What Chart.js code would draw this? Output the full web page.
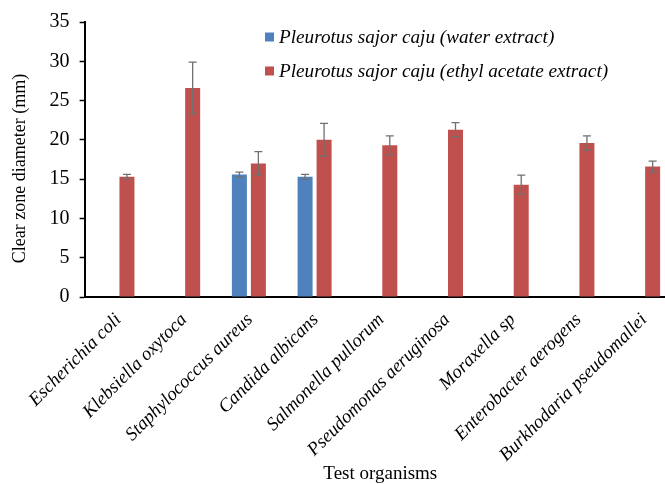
<!DOCTYPE html>
<html>
<head>
<meta charset="utf-8">
<script src="https://cdn.jsdelivr.net/npm/chart.js@4.4.1/dist/chart.umd.min.js"></script>
<style>
  html, body { margin: 0; padding: 0; background: #fff; overflow: hidden; }
  #wrap { width: 676px; height: 484px; }
</style>
</head>
<body>
<div id="wrap"><canvas id="chart" width="676" height="484"></canvas></div>
<script>
// Test organisms on the x axis
const organisms = [
  'Escherichia coli',
  'Klebsiella oxytoca',
  'Staphylococcus aureus',
  'Candida albicans',
  'Salmonella pullorum',
  'Pseudomonas aeruginosa',
  'Moraxella sp',
  'Enterobacter aerogens',
  'Burkhodaria pseudomallei'
];

const seriesNames = [
  'Pleurotus sajor caju (water extract)',
  'Pleurotus sajor caju (ethyl acetate extract)'
];

// Mean clear zone diameter (mm) and standard deviation
const waterExtract    = [null, null, 15.6, 15.3, null, null, null, null, null];
const waterExtractSd  = [null, null, 0.3, 0.3, null, null, null, null, null];
const ethylAcetate    = [15.3, 26.6, 17.0, 20.0, 19.3, 21.3, 14.3, 19.6, 16.6];
const ethylAcetateSd  = [0.3, 3.3, 1.5, 2.1, 1.2, 0.9, 1.2, 0.9, 0.7];

const yTicks = [0, 5, 10, 15, 20, 25, 30, 35];

const SERIF = "'Liberation Serif', 'Times New Roman', serif";
const BLUE = '#4F81BD';
const RED = '#C0504D';

// Whiskers (mean ± SD) on top of each bar
const errorBars = {
  id: 'errorBars',
  afterDatasetsDraw(chart) {
    const ctx = chart.ctx;
    const y = chart.scales.y;
    ctx.save();
    ctx.strokeStyle = '#707070';
    ctx.lineWidth = 1.3;
    chart.data.datasets.forEach((ds, di) => {
      const meta = chart.getDatasetMeta(di);
      ds.data.forEach((v, i) => {
        const sd = ds.sd[i];
        if (v == null || sd == null) return;
        const x = meta.data[i].x;
        const yHi = y.getPixelForValue(v + sd);
        const yLo = y.getPixelForValue(v - sd);
        const cap = 4;
        ctx.beginPath();
        ctx.moveTo(x, yHi); ctx.lineTo(x, yLo);
        ctx.moveTo(x - cap, yHi); ctx.lineTo(x + cap, yHi);
        ctx.moveTo(x - cap, yLo); ctx.lineTo(x + cap, yLo);
        ctx.stroke();
      });
    });
    ctx.restore();
  }
};

// Series key, placed inside the upper part of the plot area
const seriesKey = {
  id: 'seriesKey',
  afterDraw(chart) {
    const ctx = chart.ctx;
    ctx.save();
    ctx.font = 'italic 19.2px ' + SERIF;
    ctx.textBaseline = 'middle';
    ctx.textAlign = 'left';
    chart.data.datasets.forEach((ds, i) => {
      const cy = 37 + i * 34;
      ctx.fillStyle = ds.backgroundColor;
      ctx.fillRect(265, cy - 4.5, 9, 9);
      ctx.fillStyle = '#000';
      ctx.fillText(ds.label, 279, cy + 1);
    });
    ctx.restore();
  }
};

new Chart(document.getElementById('chart'), {
  type: 'bar',
  data: {
    labels: organisms,
    datasets: [
      { label: seriesNames[0], data: waterExtract, sd: waterExtractSd, backgroundColor: BLUE },
      { label: seriesNames[1], data: ethylAcetate, sd: ethylAcetateSd, backgroundColor: RED }
    ]
  },
  options: {
    responsive: false,
    animation: false,
    devicePixelRatio: 1,
    layout: { padding: { top: 20, right: 0, bottom: 0, left: 0 } },
    datasets: { bar: { categoryPercentage: 0.578, barPercentage: 0.79 } },
    plugins: { legend: { display: false }, tooltip: { enabled: false } },
    scales: {
      x: {
        grid: { display: true, drawOnChartArea: false, drawTicks: false },
        border: { display: true, color: '#000', width: 2 },
        ticks: {
          autoSkip: false,
          minRotation: 45,
          maxRotation: 45,
          padding: 12,
          labelOffset: 1,
          color: '#000',
          font: { family: SERIF, size: 18.7, style: 'italic' }
        },
        title: {
          display: true,
          text: 'Test organisms',
          color: '#000',
          padding: { top: 0, bottom: 0 },
          font: { family: SERIF, size: 19, lineHeight: 1 }
        },
        afterFit(s) { s.height = 187; }
      },
      y: {
        min: 0,
        max: 35,
        afterBuildTicks(s) { s.ticks = yTicks.map(v => ({ value: v })); },
        grid: { display: true, drawOnChartArea: false, drawTicks: true, tickLength: 5, color: '#000', tickWidth: 1.5 },
        border: { display: true, color: '#000', width: 2 },
        ticks: { color: '#000', padding: 10, font: { family: SERIF, size: 20 } },
        title: {
          display: true,
          text: 'Clear zone diameter (mm)    ',
          color: '#000',
          padding: { top: 9.5, bottom: 0 },
          font: { family: SERIF, size: 18 }
        },
        afterFit(s) { s.width = 84.6; }
      }
    }
  },
  plugins: [errorBars, seriesKey]
});
</script>
</body>
</html>
